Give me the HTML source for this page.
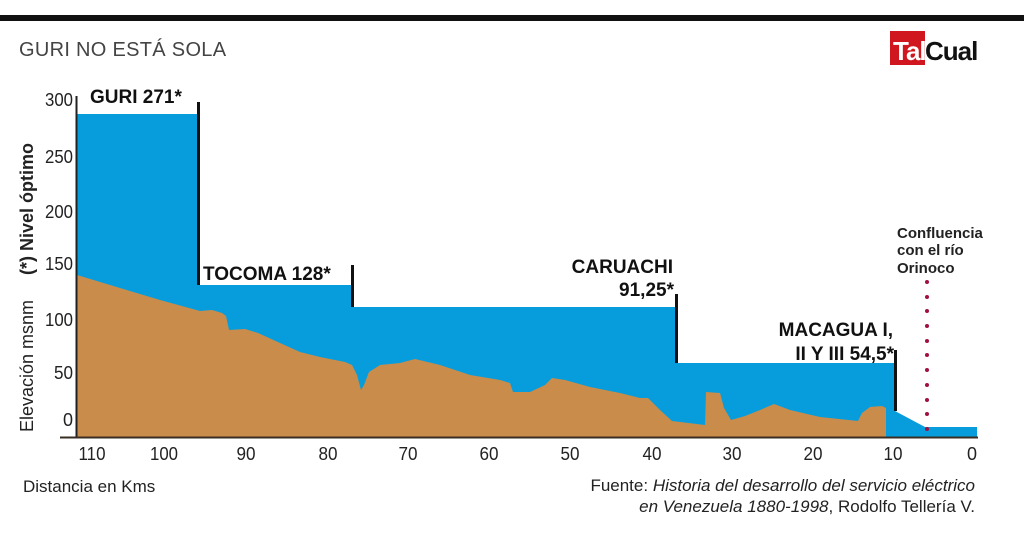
<!DOCTYPE html>
<html><head><meta charset="utf-8"><style>
body{margin:0;background:#fff;}
svg{display:block;font-family:"Liberation Sans",sans-serif;}
</style></head><body>
<svg width="1024" height="542" viewBox="0 0 1024 542">
<rect x="0" y="15" width="1024" height="6" fill="#111"/>
<text x="19" y="56" font-size="20" fill="#444" letter-spacing="0.3">GURI NO ESTÁ SOLA</text>
<rect x="890" y="31" width="35" height="34" fill="#d0161e"/>
<text x="893" y="60" font-size="26" font-weight="bold" fill="#fff" letter-spacing="-1">Tal</text>
<text x="925" y="60" font-size="26" font-weight="bold" fill="#111" letter-spacing="-1">Cual</text>
<polygon fill="#079ddc" points="77,114 198,114 198,285 352,285 352,307 676,307 676,363 895,363 895,411 925,427 977,427 977,437 77,437"/>
<polygon fill="#c98c4a" points="77,275 120,288 160,300 200,311 212,310 222,313 226,316 229,330 245,329 258,333 280,343 300,352 320,357 345,362 352,365 357,375 361,390 364,385 369,372 380,365 400,363 415,359 440,365 470,375 500,380 510,383 513,392 530,392 545,385 552,378 565,380 590,387 620,393 640,398 648,398 660,410 672,421 705,425 706,392 720,393 724,408 731,420 745,416 760,410 774,404 790,410 820,417 858,421 862,413 870,407 882,406 886,408 886,437 77,437"/>
<line x1="76.5" y1="96" x2="76.5" y2="438" stroke="#222" stroke-width="2"/>
<line x1="60" y1="437.5" x2="978" y2="437.5" stroke="#3a2e22" stroke-width="2"/>
<g stroke="#111" stroke-width="3">
<line x1="198.5" y1="102" x2="198.5" y2="285"/>
<line x1="352.5" y1="265" x2="352.5" y2="307"/>
<line x1="676.5" y1="294" x2="676.5" y2="363"/>
<line x1="895.5" y1="350" x2="895.5" y2="411"/>
</g>
<g fill="#a01040">
<circle cx="927" cy="282" r="2"/><circle cx="927" cy="297" r="2"/><circle cx="927" cy="311" r="2"/><circle cx="927" cy="326" r="2"/><circle cx="927" cy="341" r="2"/><circle cx="927" cy="355" r="2"/><circle cx="927" cy="370" r="2"/><circle cx="927" cy="385" r="2"/><circle cx="927" cy="400" r="2"/><circle cx="927" cy="414" r="2"/><circle cx="927" cy="429" r="2"/>
</g>
<g font-size="18" fill="#222" text-anchor="end">
<text x="73" y="106" textLength="28" lengthAdjust="spacingAndGlyphs">300</text><text x="73" y="163" textLength="28" lengthAdjust="spacingAndGlyphs">250</text><text x="73" y="218" textLength="28" lengthAdjust="spacingAndGlyphs">200</text><text x="73" y="270" textLength="28" lengthAdjust="spacingAndGlyphs">150</text><text x="73" y="326" textLength="28" lengthAdjust="spacingAndGlyphs">100</text><text x="73" y="379" textLength="19" lengthAdjust="spacingAndGlyphs">50</text><text x="73" y="426">0</text>
</g>
<text transform="translate(33,432) rotate(-90)" font-size="18" fill="#222">Elevación msnm</text>
<text transform="translate(33,275) rotate(-90)" font-size="18" font-weight="bold" fill="#222">(*) Nivel óptimo</text>
<g font-size="18" fill="#222" text-anchor="middle">
<text x="92" y="460" textLength="27" lengthAdjust="spacingAndGlyphs">110</text><text x="164" y="460" textLength="28" lengthAdjust="spacingAndGlyphs">100</text><text x="246" y="460" textLength="19" lengthAdjust="spacingAndGlyphs">90</text><text x="328" y="460" textLength="19" lengthAdjust="spacingAndGlyphs">80</text><text x="408" y="460" textLength="19" lengthAdjust="spacingAndGlyphs">70</text><text x="489" y="460" textLength="19" lengthAdjust="spacingAndGlyphs">60</text><text x="570" y="460" textLength="19" lengthAdjust="spacingAndGlyphs">50</text><text x="652" y="460" textLength="19" lengthAdjust="spacingAndGlyphs">40</text><text x="732" y="460" textLength="19" lengthAdjust="spacingAndGlyphs">30</text><text x="813" y="460" textLength="19" lengthAdjust="spacingAndGlyphs">20</text><text x="893" y="460" textLength="19" lengthAdjust="spacingAndGlyphs">10</text><text x="972" y="460">0</text>
</g>
<text x="23" y="492" font-size="17" fill="#222">Distancia en Kms</text>
<g font-weight="bold" font-size="19" fill="#111">
<text x="90" y="103">GURI 271*</text>
<text x="203" y="280">TOCOMA 128*</text>
<text x="673" y="273" text-anchor="end">CARUACHI</text>
<text x="674" y="296" text-anchor="end">91,25*</text>
<text x="893" y="336" text-anchor="end">MACAGUA I,</text>
<text x="894" y="360" text-anchor="end">II Y III  54,5*</text>
</g>
<g font-weight="bold" font-size="15" fill="#222">
<text x="897" y="238">Confluencia</text>
<text x="897" y="255">con el río</text>
<text x="897" y="273">Orinoco</text>
</g>
<text x="975" y="491" font-size="17" fill="#222" text-anchor="end">Fuente: <tspan font-style="italic">Historia del desarrollo del servicio eléctrico</tspan></text>
<text x="975" y="512" font-size="17" fill="#222" text-anchor="end"><tspan font-style="italic">en Venezuela 1880-1998</tspan>, Rodolfo Tellería V.</text>
</svg>
</body></html>
